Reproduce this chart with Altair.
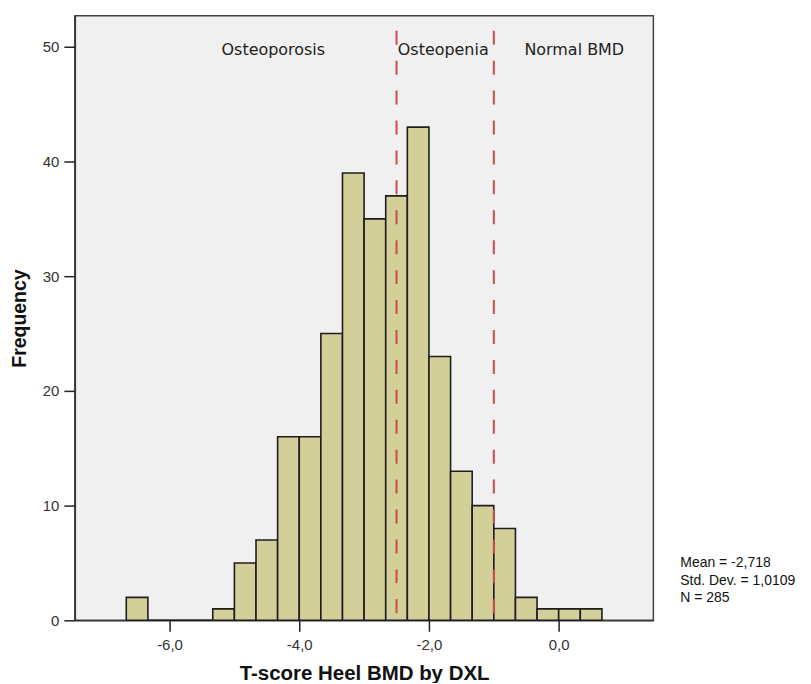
import altair as alt
import pandas as pd

# Histogram bins (T-score, bin width 1/3) and frequencies
bin_starts = [-20/3, -19/3, -6.0, -17/3, -16/3, -5.0, -14/3, -13/3, -4.0, -11/3, -10/3, -3.0,
              -8/3, -7/3, -2.0, -5/3, -4/3, -1.0, -2/3, -1/3, 0.0, 1/3]
counts = [2, 0, 0, 0, 1, 5, 7, 16, 16, 25, 39, 35, 37, 43, 23, 13, 10, 8, 2, 1, 1, 1]
bin_width = 1/3

cutoffs = [-2.5, -1.0]
region_labels = ["Osteoporosis", "Osteopenia", "Normal BMD"]
region_x = [-4.40, -1.78, 0.24]
stats_lines = ["Mean = -2,718", "Std. Dev. = 1,0109", "N = 285"]
x_ticks = [-6, -4, -2, 0]
y_ticks = [0, 10, 20, 30, 40, 50]

hist = pd.DataFrame({
    "start": bin_starts,
    "end": [s + bin_width for s in bin_starts],
    "count": counts,
})
cut_df = pd.DataFrame({"x": cutoffs, "ytop": [51.4] * len(cutoffs), "y0": [0] * len(cutoffs)})
lab_df = pd.DataFrame({"label": region_labels, "x": region_x, "y": [49.7] * 3})

xscale = alt.Scale(domain=[-7.46, 1.46], nice=False, zero=False)
yscale = alt.Scale(domain=[0, 52.7], nice=False)

xaxis = alt.Axis(
    values=x_ticks,
    labelExpr="replace(replace(format(datum.value, '.1f'), '.', ','), '\u2212', '-')",
    title="T-score Heel BMD by DXL",
    titleFont="Liberation Sans", titleFontSize=20.5, titleFontWeight="bold", titleColor="#111",
    titleY=59, titleBaseline="alphabetic",
    labelFont="Liberation Sans", labelFontSize=15, labelColor="#333", labelPadding=6,
    tickSize=11, tickWidth=1.5, tickColor="#222",
    domain=True, domainColor="#333", domainWidth=1.5, grid=False,
)
yaxis = alt.Axis(
    values=y_ticks,
    title="Frequency",
    titleFont="Liberation Sans", titleFontSize=19.5, titleFontWeight="bold", titleColor="#111",
    titleAngle=-90, titleX=-55, titleY=303, titleBaseline="middle", titleAlign="center",
    labelFont="Liberation Sans", labelFontSize=15, labelColor="#333", labelPadding=5,
    tickSize=11, tickWidth=1.5, tickColor="#222",
    domain=True, domainColor="#333", domainWidth=1.5, grid=False,
)

bars = alt.Chart(hist).mark_rect(
    fill="#d3cf98", stroke="#1e1e1e", strokeWidth=1.6
).encode(
    x=alt.X("start:Q", scale=xscale, axis=xaxis),
    x2="end:Q",
    y=alt.Y("count:Q", scale=yscale, axis=yaxis),
    y2=alt.datum(0),
)

rules = alt.Chart(cut_df).mark_rule(
    color="#cc4b4b", strokeWidth=2, strokeDash=[14, 16]
).encode(
    x=alt.X("x:Q", scale=xscale),
    y=alt.Y("ytop:Q", scale=yscale),
    y2="y0:Q",
)

labels = alt.Chart(lab_df).mark_text(
    font="DejaVu Sans", fontSize=16, color="#222", baseline="middle", align="center"
).encode(
    x=alt.X("x:Q", scale=xscale),
    y=alt.Y("y:Q", scale=yscale),
    text="label:N",
)

stats = alt.Chart(pd.DataFrame({"k": [0]})).mark_text(
    text=stats_lines, font="Liberation Sans", fontSize=14, color="#111",
    align="left", baseline="alphabetic", lineHeight=17.5,
).encode(
    x=alt.value(607),
    y=alt.value(553),
)

chart = alt.layer(bars, rules, labels, stats).properties(
    width=580, height=606,
    autosize=alt.AutoSizeParams(type="none"),
    padding={"left": 67, "top": 7, "right": 150, "bottom": 62},
).configure_view(
    fill="#f0f0f0", stroke="#444", strokeWidth=1.5
)

chart.save("out.html", embed_options={"renderer": "svg", "actions": False})
